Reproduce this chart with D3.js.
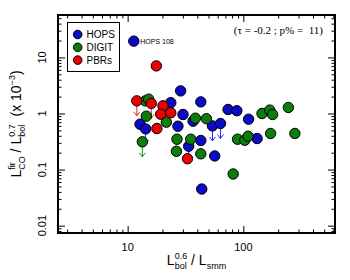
<!doctype html>
<html>
<head>
<meta charset="UTF-8">
<title>L_CO vs L_bol</title>
<style>
  body { margin: 0; background: #fff; }
  svg { display: block; font-family: "Liberation Sans", Arial, sans-serif; }
  svg text { white-space: pre; }
</style>
</head>
<body>
<svg id="chart" width="350" height="280"></svg>
<script src="https://d3js.org/d3.v7.min.js"></script>
<script>
// HOPS (blue)
var hopsX   = [11.3, 12.8, 14.3, 23.6, 28.7, 42.9, 30.1, 36.8, 27.2, 54.1, 63.5, 73.8, 87.9, 111, 42.9, 33.7, 56.6, 131.5, 43.7];
var hopsY   = [19.5, 0.644, 0.531, 1.56, 2.53, 1.61, 0.96, 0.729, 0.593, 0.601, 0.663, 1.18, 1.12, 0.791, 0.33, 0.261, 0.175, 0.358, 0.045];
var hopsLim = [0, 0, 1, 0, 0, 0, 0, 0, 0, 1, 1, 0, 0, 0, 0, 1, 0, 0, 0];

// DIGIT (green)
var digitX   = [14.2, 15.2, 14.5, 13.4, 21.6, 38.5, 48, 26.7, 35.1, 26.4, 42.9, 89.1, 103, 110, 145, 169, 179, 245, 172, 279, 81.7];
var digitY   = [1.68, 1.8, 0.895, 0.313, 0.7, 0.824, 0.807, 0.348, 0.348, 0.212, 0.191, 0.348, 0.334, 0.393, 1.0, 1.15, 0.96, 1.28, 0.44, 0.44, 0.0835];
var digitLim = [0, 0, 0, 1, 0, 0, 0, 0, 0, 0, 0, 0, 0, 0, 0, 0, 0, 0, 0, 0, 0];

// PBRs (red)
var pbrX   = [17.7, 12, 16, 20.2, 19.3, 23.6, 17.9, 32.9];
var pbrY   = [7.05, 1.68, 1.51, 1.37, 0.972, 1.03, 0.54, 0.156];
var pbrLim = [0, 1, 1, 0, 0, 0, 0, 0];

var xMajor = [10, 100];
var yMajor = [0.01, 0.1, 1, 10];
var yMajorLabels = ["0.01", "0.1", "1", "10"];
var tauText = "(\u03c4 = -0.2 ; p% =  11)";

var series = [
    {name: "HOPS",  x: hopsX,  y: hopsY,  lim: hopsLim,  fill: "#0a0ac8", arrow: "#2828f0"},
    {name: "DIGIT", x: digitX, y: digitY, lim: digitLim, fill: "#0b7d0b", arrow: "#0a9a0a"},
    {name: "PBRs",  x: pbrX,   y: pbrY,   lim: pbrLim,   fill: "#ee0000", arrow: "#f02828"}
];

var svg = d3.select("#chart");
var L = 58, R = 335, T = 15, B = 233;

var x = d3.scaleLog().domain([2.5, 620]).range([L, R]);
var y = d3.scaleLog().domain([0.0074, 57]).range([B, T]);

// minor ticks: every integer multiple inside the domain
function minors(scale, majors) {
    var out = [];
    var d = scale.domain();
    for (var e = -3; e <= 3; e++) {
        for (var m = 1; m < 10; m++) {
            var v = m * Math.pow(10, e);
            if (v >= d[0] && v <= d[1] && majors.indexOf(+v.toPrecision(6)) < 0) out.push(v);
        }
    }
    return out;
}
var xMinor = minors(x, xMajor);
var yMinor = minors(y, yMajor);

function tickAxis(axisFn, scale, vals, size, pos) {
    var g = svg.append("g")
        .attr("transform", pos)
        .call(axisFn(scale).tickValues(vals).tickSizeInner(size).tickSizeOuter(0).tickFormat(""));
    g.select(".domain").remove();
    g.selectAll("line").attr("stroke", "#000").attr("stroke-width", 1);
    return g;
}

// inward ticks on all four sides
tickAxis(d3.axisBottom, x, xMinor, -3.5, "translate(0," + B + ")");
tickAxis(d3.axisBottom, x, xMajor, -7, "translate(0," + B + ")");
tickAxis(d3.axisTop, x, xMinor, -3.5, "translate(0," + T + ")");
tickAxis(d3.axisTop, x, xMajor, -7, "translate(0," + T + ")");
tickAxis(d3.axisLeft, y, yMinor, -3.5, "translate(" + L + ",0)");
tickAxis(d3.axisLeft, y, yMajor, -7, "translate(" + L + ",0)");
tickAxis(d3.axisRight, y, yMinor, -3.5, "translate(" + R + ",0)");
tickAxis(d3.axisRight, y, yMajor, -7, "translate(" + R + ",0)");

// tick labels
svg.append("g").selectAll("text")
    .data(xMajor)
    .enter().append("text")
    .attr("x", function(d) { return x(d); })
    .attr("y", B + 17.5)
    .attr("text-anchor", "middle")
    .attr("font-size", 11)
    .text(function(d) { return d; });

svg.append("g").selectAll("text")
    .data(yMajor)
    .enter().append("text")
    .attr("transform", function(d) { return "translate(" + (L - 12.5) + "," + y(d) + ") rotate(-90)"; })
    .attr("text-anchor", "middle")
    .attr("font-size", 11)
    .text(function(d, i) { return yMajorLabels[i]; });

// frame
svg.append("rect")
    .attr("x", L).attr("y", T)
    .attr("width", R - L).attr("height", B - T)
    .attr("fill", "none").attr("stroke", "#000").attr("stroke-width", 2);

// upper limit arrows, drawn below the points
series.forEach(function(s) {
    var g = svg.append("g").attr("stroke", s.arrow).attr("fill", "none").attr("stroke-width", 1);
    s.x.forEach(function(xv, i) {
        if (!s.lim[i]) return;
        var cx = x(xv), cy = y(s.y[i]);
        g.append("line").attr("x1", cx).attr("y1", cy).attr("x2", cx).attr("y2", cy + 15);
        g.append("path").attr("d", "M" + (cx - 3) + "," + (cy + 11) + "L" + cx + "," + (cy + 15) + "L" + (cx + 3) + "," + (cy + 11));
    });
});

// points
series.forEach(function(s) {
    svg.append("g").selectAll("circle")
        .data(s.x.map(function(v, i) { return [v, s.y[i]]; }))
        .enter().append("circle")
        .attr("cx", function(d) { return x(d[0]); })
        .attr("cy", function(d) { return y(d[1]); })
        .attr("r", 5.2)
        .attr("fill", s.fill)
        .attr("stroke", "#000")
        .attr("stroke-width", 1);
});

// HOPS 108 label
svg.append("text")
    .attr("x", x(hopsX[0]) + 6.5)
    .attr("y", y(hopsY[0]) + 2.5)
    .attr("font-size", 7)
    .text("HOPS 108");

// correlation text
svg.append("text")
    .attr("x", 323).attr("y", 34)
    .attr("text-anchor", "end")
    .attr("font-family", "'Liberation Serif', 'Times New Roman', serif")
    .attr("font-size", 11)
    .text(tauText);

// legend
var leg = svg.append("g");
leg.append("rect")
    .attr("x", 67.5).attr("y", 22.5).attr("width", 52).attr("height", 49)
    .attr("fill", "#fff").attr("stroke", "#000").attr("stroke-width", 1);
series.forEach(function(s, i) {
    var ly = 34.5 + i * 12.8;
    leg.append("circle").attr("cx", 77.7).attr("cy", ly).attr("r", 4.3)
        .attr("fill", s.fill).attr("stroke", "#000").attr("stroke-width", 1);
    leg.append("text").attr("x", 86.5).attr("y", ly + 3.6)
        .attr("font-size", 10).text(s.name);
});

// rich label: pieces laid out left to right, stacked sup/sub pairs
function richLabel(g, parts, big, small) {
    var cur = 0;
    parts.forEach(function(p) {
        if (p.stack) {
            var w = 0;
            p.stack.forEach(function(q) {
                var t = g.append("text").attr("x", cur).attr("y", q.dy)
                    .attr("font-size", small).text(q.t);
                w = Math.max(w, t.node().getComputedTextLength());
            });
            cur += w;
        } else {
            var t = g.append("text").attr("x", cur).attr("y", p.dy || 0)
                .attr("font-size", p.small ? small : big).text(p.t);
            cur += t.node().getComputedTextLength();
        }
    });
    g.selectAll("text").attr("x", function() { return +d3.select(this).attr("x") - cur / 2; });
}

var xl = svg.append("g").attr("transform", "translate(" + ((L + R) / 2) + ",265)");
richLabel(xl, [
    {t: "L"},
    {stack: [{t: "0.6", dy: -6}, {t: "bol", dy: 4}]},
    {t: " / L"},
    {t: "smm", small: true, dy: 4}
], 14, 9);

var yl = svg.append("g").attr("transform", "translate(21," + ((T + B) / 2) + ") rotate(-90)");
richLabel(yl, [
    {t: "L"},
    {stack: [{t: "fir", dy: -6}, {t: "CO", dy: 4}]},
    {t: " / L"},
    {stack: [{t: "0.7", dy: -6}, {t: "bol", dy: 4}]},
    {t: "  (x 10"},
    {t: "\u22123", small: true, dy: -6},
    {t: ")"}
], 14, 9);
</script>
</body>
</html>
